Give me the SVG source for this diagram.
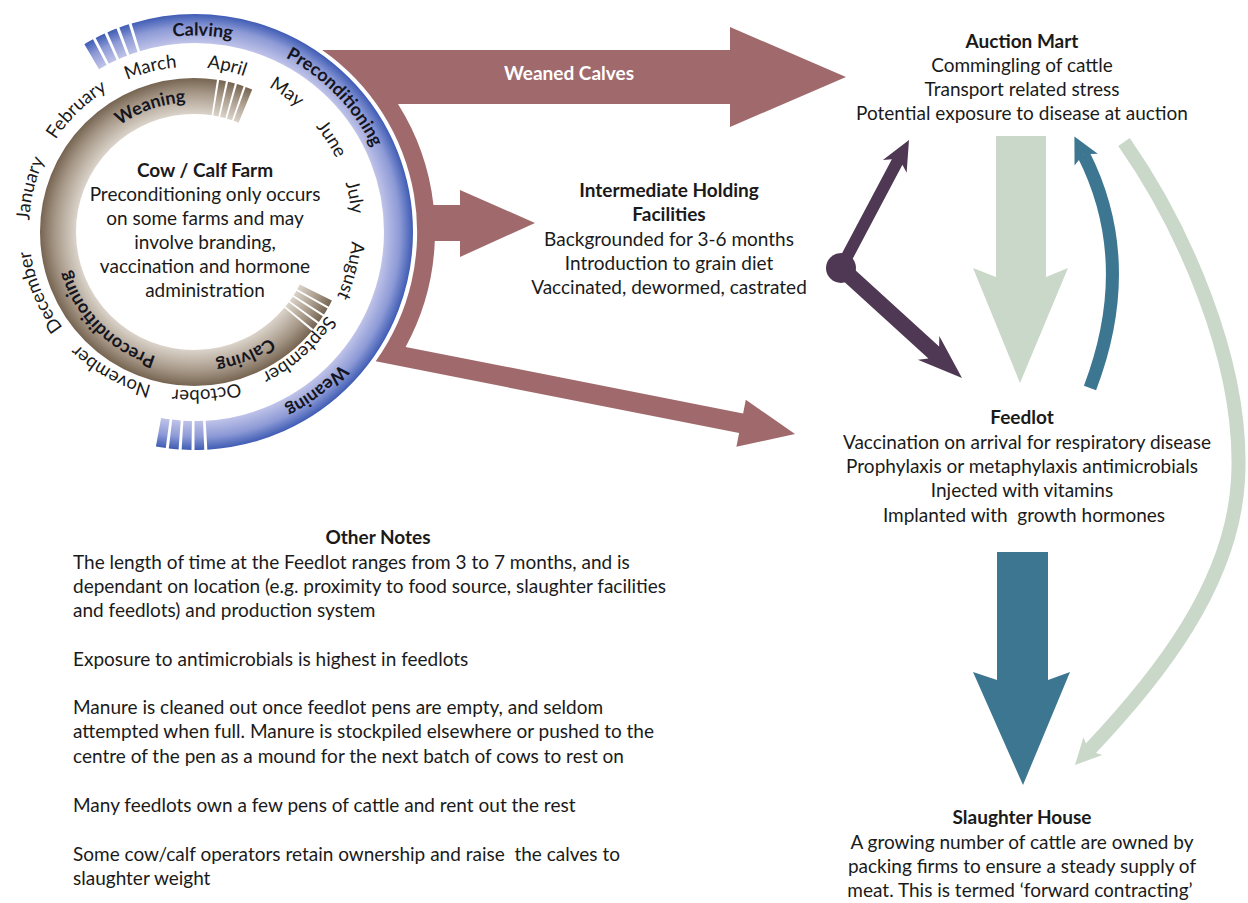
<svg xmlns="http://www.w3.org/2000/svg" width="1248" height="903" viewBox="0 0 1248 903">
<style>
.t{font-family:Lato,'Open Sans','Liberation Sans',sans-serif;fill:#1a1a1a;font-size:19px}
.c{text-anchor:middle}
.b{font-weight:bold}
.m{font-size:18.5px}
.rl{font-family:Lato,'Open Sans','Liberation Sans',sans-serif;font-size:18px;font-weight:bold;fill:#14141e;text-anchor:middle}
.maroon{fill:#a06a6d}
.purple{fill:#4f3853}
.sage{fill:#c9d8c9}
.teal{fill:#3d7691}
</style>
<defs>
<radialGradient id="gBlue" gradientUnits="userSpaceOnUse" cx="195" cy="232" r="218">
<stop offset="0.86" stop-color="#c4c7ea"/>
<stop offset="0.94" stop-color="#8d9ad6"/>
<stop offset="1" stop-color="#3f5cb4"/>
</radialGradient>
<radialGradient id="gBrown" gradientUnits="userSpaceOnUse" cx="194" cy="232" r="154">
<stop offset="0.76" stop-color="#ddd6cd"/>
<stop offset="0.9" stop-color="#a89a8a"/>
<stop offset="1" stop-color="#766451"/>
</radialGradient>
<path id="pMonth" d="M 29 228.5 A 161.5 161.5 0 1 1 352 228.5 A 161.5 161.5 0 1 1 29 228.5"/>
<path id="pBlue" d="M -1.5 232 A 196.5 196.5 0 1 1 391.5 232 A 196.5 196.5 0 1 1 -1.5 232"/>
<path id="pBrown" d="M 64 232 A 130 130 0 1 1 324 232 A 130 130 0 1 1 64 232"/>
</defs>
<rect width="1248" height="903" fill="#ffffff"/>

<g id="connectors">
<path id="weaned-calves-flow" class="maroon" d="M 322.1 50 L 730 50 L 730 27 L 846 77 L 730 127 L 730 104 L 398 104 A 240 240 0 0 1 433.5 205 L 460 205 L 460 190 L 535 223 L 460 257 L 460 241 L 434.8 241 A 240 240 0 0 1 405.6 346.9 L 743.1 413.4 L 745.8 399.7 L 795 434 L 736.4 446.7 L 739.1 433 L 375.7 361.3 A 222 222 0 0 0 322.1 50 Z"/>
<text class="t c b" x="569" y="80" style="fill:#ffffff">Weaned Calves</text>
<circle class="purple" cx="841" cy="268" r="15"/>
<polygon class="purple" points="835.72,265.15 891.86,159.15 882.88,160 909,140 906.64,172.82 902.42,164.85 846.28,270.85"/>
<polygon class="purple" points="846.36,262.06 939.14,346.62 939.29,335.99 962,378 917.87,359.75 928.42,358.5 835.64,273.94"/>
<polygon class="sage" points="996,136 1046,136 1046,277 1068,268 1020,383 973,268 996,277"/>
<path d="M 1090 388 Q 1138 262 1083.4 154.2" fill="none" stroke="#3d7691" stroke-width="13"/>
<polygon class="teal" points="1074.4,136.4 1097.75,153.72 1083.4,154.2 1074.55,165.48"/>
<path d="M 1124 142 C 1180 222 1245 360 1238 480 C 1232 585 1157.6 677.9 1088.8 750.5" fill="none" stroke="#c9d8c9" stroke-width="14"/>
<polygon class="sage" points="1075,765 1083.45,737.18 1088.76,750.48 1102.33,755.06"/>
<polygon class="teal" points="997,552 1048,552 1048,680 1070,672 1023,785 973,672 997,680"/>
</g>

<g id="cow-calf-farm">
<circle cx="195" cy="232" r="203.5" fill="none" stroke="url(#gBlue)" stroke-width="29" stroke-dasharray="307.94 2.84 9.23 2.84 9.23 2.84 9.23 2.84 9.23 494.05 9.23 2.84 9.23 2.84 9.23 2.84 9.23 2.84 380.04"/>
<circle cx="194" cy="232" r="136" fill="none" stroke="url(#gBrown)" stroke-width="36" stroke-dasharray="0 62.66 6.17 1.9 6.17 1.9 6.17 1.9 6.17 1.9 566.1 1.9 6.17 1.9 6.17 1.9 6.17 1.9 6.17 161.17"/>
<text class="rl"><textPath href="#pBlue" startOffset="25.61%">Calving</textPath></text>
<text class="rl"><textPath href="#pBlue" startOffset="37.78%">Preconditioning</textPath></text>
<text class="rl"><textPath href="#pBlue" startOffset="64.58%">Weaning</textPath></text>
<text class="rl"><textPath href="#pBrown" startOffset="19.64%">Weaning</textPath></text>
<text class="rl"><textPath href="#pBrown" startOffset="68.72%">Calving</textPath></text>
<text class="rl"><textPath href="#pBrown" startOffset="87.5%">Preconditioning</textPath></text>
<text class="t m c"><textPath href="#pMonth" startOffset="3.89%">January</textPath></text>
<text class="t m c"><textPath href="#pMonth" startOffset="12.83%">February</textPath></text>
<text class="t m c"><textPath href="#pMonth" startOffset="21.11%">March</textPath></text>
<text class="t m c"><textPath href="#pMonth" startOffset="28.53%">April</textPath></text>
<text class="t m c"><textPath href="#pMonth" startOffset="34.78%">May</textPath></text>
<text class="t m c"><textPath href="#pMonth" startOffset="41%">June</textPath></text>
<text class="t m c"><textPath href="#pMonth" startOffset="47%">July</textPath></text>
<text class="t m c"><textPath href="#pMonth" startOffset="54.08%">August</textPath></text>
<text class="t m c"><textPath href="#pMonth" startOffset="63.39%">September</textPath></text>
<text class="t m c"><textPath href="#pMonth" startOffset="73.44%">October</textPath></text>
<text class="t m c"><textPath href="#pMonth" startOffset="83.08%">November</textPath></text>
<text class="t m c"><textPath href="#pMonth" startOffset="93.64%">December</textPath></text>
<text class="t c b" x="205" y="177">Cow / Calf Farm</text>
<text class="t c" x="205" y="201">Preconditioning only occurs</text>
<text class="t c" x="205" y="225">on some farms and may</text>
<text class="t c" x="205" y="249">involve branding,</text>
<text class="t c" x="205" y="273">vaccination and hormone</text>
<text class="t c" x="205" y="297">administration</text>
</g>

<g id="intermediate-holding">
<text class="t c b" x="669" y="197">Intermediate Holding</text>
<text class="t c b" x="669" y="221">Facilities</text>
<text class="t c" x="669" y="246">Backgrounded for 3-6 months</text>
<text class="t c" x="669" y="270">Introduction to grain diet</text>
<text class="t c" x="669" y="294">Vaccinated, dewormed, castrated</text>
</g>

<g id="auction-mart">
<text class="t c b" x="1022" y="48">Auction Mart</text>
<text class="t c" x="1022" y="72">Commingling of cattle</text>
<text class="t c" x="1022" y="96">Transport related stress</text>
<text class="t c" x="1022" y="120">Potential exposure to disease at auction</text>
</g>

<g id="feedlot">
<text class="t c b" x="1022" y="424">Feedlot</text>
<text class="t c" x="1027" y="449">Vaccination on arrival for respiratory disease</text>
<text class="t c" x="1022" y="473">Prophylaxis or metaphylaxis antimicrobials</text>
<text class="t c" x="1022" y="497">Injected with vitamins</text>
<text class="t c" x="1024" y="522" xml:space="preserve">Implanted with  growth hormones</text>
</g>

<g id="slaughter-house">
<text class="t c b" x="1022" y="824">Slaughter House</text>
<text class="t c" x="1022" y="849">A growing number of cattle are owned by</text>
<text class="t c" x="1022" y="873">packing firms to ensure a steady supply of</text>
<text class="t c" x="1020" y="897">meat. This is termed ‘forward contracting’</text>
</g>

<g id="other-notes">
<text class="t c b" x="378" y="544">Other Notes</text>
<text class="t" x="73" y="569">The length of time at the Feedlot ranges from 3 to 7 months, and is</text>
<text class="t" x="73" y="593">dependant on location (e.g. proximity to food source, slaughter facilities</text>
<text class="t" x="73" y="617">and feedlots) and production system</text>
<text class="t" x="73" y="666">Exposure to antimicrobials is highest in feedlots</text>
<text class="t" x="73" y="714">Manure is cleaned out once feedlot pens are empty, and seldom</text>
<text class="t" x="73" y="738">attempted when full. Manure is stockpiled elsewhere or pushed to the</text>
<text class="t" x="73" y="763">centre of the pen as a mound for the next batch of cows to rest on</text>
<text class="t" x="73" y="812">Many feedlots own a few pens of cattle and rent out the rest</text>
<text class="t" x="73" y="861" xml:space="preserve">Some cow/calf operators retain ownership and raise  the calves to</text>
<text class="t" x="73" y="885">slaughter weight</text>
</g>
</svg>
